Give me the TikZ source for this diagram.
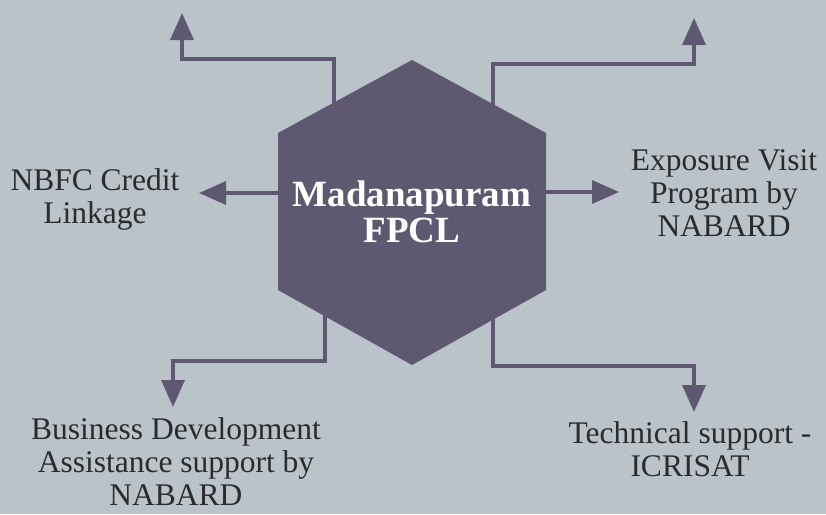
\documentclass[tikz,border=0pt]{standalone}
\usepackage{fontspec}
\setmainfont{Liberation Serif}
\usetikzlibrary{arrows.meta,backgrounds}
\definecolor{bgcol}{HTML}{BBC3CA}
\definecolor{hexcol}{HTML}{5E5870}
\definecolor{txtcol}{HTML}{2B2B2B}
\begin{document}
\begin{tikzpicture}[x=1pt,y=-1pt,
  link/.style={hexcol, line width=3.5pt, -{Triangle[width=23pt,length=27pt]}},
  info/.style={text=txtcol, align=center, inner sep=0pt, font=\fontsize{31.5}{33}\selectfont},
  hubtext/.style={text=white, align=center, inner sep=0pt, font=\fontsize{37}{36}\bfseries\selectfont}]
\useasboundingbox (0,0) rectangle (826,514);

% arrow tips
\coordinate (tl) at (182,13);
\coordinate (tr) at (694,18);
\coordinate (lt) at (199,193);
\coordinate (rt) at (619,192);
\coordinate (bl) at (173,407);
\coordinate (br) at (694,412);

\node[hubtext] (hub) at (412,212) {Madanapuram\\FPCL};

\node[info] (nbfc) at (95,199) {NBFC Credit\\Linkage};
\node[info] (expo) at (724,193) {Exposure Visit\\Program by\\NABARD};
\node[info] (bdev) at (176,462) {Business Development\\Assistance support by\\NABARD};
\node[info] (tech) at (690,449) {Technical support -\\ICRISAT};

\begin{scope}[on background layer]
\fill[bgcol] (0,0) rectangle (826,514);
\draw[link] ([xshift=-78pt]hub.center) |- ([yshift=-46pt]tl) -- (tl);
\draw[link] ([xshift=81pt]hub.center) |- ([yshift=-46pt]tr) -- (tr);
\draw[link] ([yshift=19pt]hub.center) -- (lt);
\draw[link] ([yshift=20pt]hub.center) -- (rt);
\draw[link] ([xshift=-87pt]hub.center) |- ([yshift=46pt]bl) -- (bl);
\draw[link] ([xshift=81pt]hub.center) |- ([yshift=46pt]br) -- (br);
\fill[hexcol] (412,60) -- (546,133) -- (546,290) -- (412,365) -- (278,290) -- (278,133) -- cycle;
\end{scope}

\end{tikzpicture}
\end{document}
